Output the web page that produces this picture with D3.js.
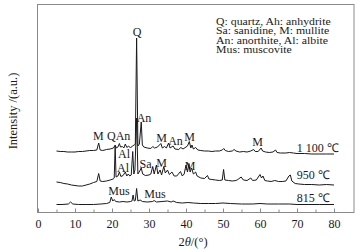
<!DOCTYPE html>
<html><head><meta charset="utf-8">
<script src="https://cdn.jsdelivr.net/npm/d3@7"></script>
<style>
html,body{margin:0;padding:0;background:#fff;}
svg{display:block;font-family:"Liberation Serif","Times New Roman",serif;}
</style></head>
<body><svg id="c" width="363" height="251"></svg>
<script>
// 2θ (°), intensity (a.u.)
const xrd815 = [[5,8.5],[6.5,8.5],[8.2,9],[8.8,11],[9.4,9],[11,8.5],[13,8.5],[15,8.5],[17,9],[18.5,9.5],[19.4,10.5],[19.8,16],[20.2,12],[20.6,13.5],[21,11.5],[22,11],[23,11.5],[24,11],[25,11.5],[25.4,12],[25.7,18],[26.0,12],[26.3,12.5],[26.65,24.5],[27,12],[27.6,13],[28.2,11.5],[29.5,11],[31,11.5],[31.4,12.5],[32,11],[33.5,11.5],[35,12],[36,11],[36.5,12],[37.5,10.5],[39,10],[40.5,10.5],[42,10],[44,9.5],[46,9.5],[48,9.5],[50,10],[52,9.5],[55,9],[58,9],[60,9.5],[62,9],[65,9],[68,9],[70,8.5],[73,8.5],[76,8.5],[80,8.5]];
const xrd950 = [[5,31],[6,30.5],[7,29.5],[8,29],[9,28],[10,27.5],[11,27],[12,27],[13,28],[14,29],[15,30.5],[15.9,31.5],[16.4,39.5],[16.8,32],[17.5,31.5],[18.5,32],[19.5,33],[20.3,34],[20.6,35],[20.85,67],[21.1,36],[21.6,37],[22.0,41],[22.4,36.5],[23.0,37.5],[23.6,41],[24.0,37],[24.4,39],[24.8,37],[25.2,38],[25.6,61.5],[25.9,39],[26.2,43],[26.65,95],[27.0,39],[27.5,42],[27.9,45],[28.3,39],[29,37.5],[30,38],[30.5,39],[31.0,46.5],[31.4,39],[32.0,48],[32.4,39],[33.0,43],[33.4,38],[34.0,46.5],[34.4,40],[35.0,43],[35.5,38.5],[36.2,41],[36.8,37],[37.5,37],[38.5,41.5],[39.0,37],[39.5,39],[40.0,48],[40.4,41],[40.8,49.5],[41.1,41],[41.5,45],[42,39],[42.6,41],[43,37],[44,35],[45,34.5],[45.8,37.5],[46.2,34],[47,33.5],[48,33],[49,32.5],[49.8,33],[50.15,43.5],[50.5,33],[51.5,32.5],[52.5,32],[53.5,32.5],[54,33.5],[54.9,36],[55.5,33],[56.5,32.5],[57.5,35],[58,32.5],[59,33],[60.0,38.5],[60.4,35],[60.8,37],[61.3,32.5],[62,32],[63,31.5],[64,32.5],[65,31.5],[66,31.5],[67,32],[67.8,37],[68.2,38],[68.6,32],[69.5,29.5],[70.5,29],[72,28.5],[74,28.5],[76,28],[78,28.5],[80,28]];
const xrd1100 = [[5,62],[6,61.5],[7,61.5],[8,61],[9,61],[10,61],[11,61.5],[12,61.5],[13,62],[14,62.5],[15,62.5],[15.9,63],[16.4,70],[16.8,63],[17.5,62.5],[18.5,63.5],[19.5,64],[20.4,65],[20.85,68],[21.2,65],[21.6,66],[22.0,69.5],[22.3,66],[22.8,66.5],[23.2,65],[23.6,69],[24.0,65.5],[24.5,67],[25.0,65],[25.5,67],[26.0,68],[26.3,69],[26.65,175],[27.0,67],[27.4,69],[27.9,91],[28.2,68],[28.6,66],[29.5,65],[30.5,64.5],[31.0,66.5],[31.5,65],[32.3,66],[33.2,69.5],[33.6,65],[34.2,66.5],[34.7,65],[35.3,70],[35.7,65],[36.5,67],[37.0,64],[38,63.5],[38.6,65.5],[39.2,64],[40.0,66],[40.4,67],[40.9,71.5],[41.3,65],[41.6,68],[42.0,64],[42.6,65.5],[43.2,63],[44,62.5],[45,62],[46,62],[47,61.5],[48,62],[49,62],[49.8,63],[50.2,64.5],[50.6,62.5],[51.5,61.5],[52.5,62],[53,63.5],[53.5,62],[54.5,61],[55.5,61.5],[56.5,61],[57.5,62],[58.3,63.5],[58.7,61.5],[59.5,61.5],[60.3,65],[60.7,62],[61.5,61],[62.5,60.5],[63.5,61],[64.2,63],[64.6,60.5],[65.5,60],[67,60],[68,60.5],[69,60],[70,59.5],[72,59.5],[74,59],[76,59],[78,59],[80,59]];
const majorTicks = [0,10,20,30,40,50,60,70,80];
const minorTicks = [5,15,25,35,45,55,65,75];
// peak labels: text, 2θ, intensity
const peakLabels = [["Q",26.76,177.5],["An",28.65,91],["M",16.3,73.5],["QAn",21.8,73.5],["M",33.43,71.5],["An",37.16,68],["M",40.95,72],["M",59.32,67],["Al",23.24,54.7],["Al",22.97,41],["Sa",29.05,45],["M",33.43,46.5],["M",41.08,43],["Mus",21.9,18],["Mus",31.6,15]];
const tempLabels = [["1 100 \u2103",69.9,61.5],["950 \u2103",69.9,34.5],["815 \u2103",69.9,11]];
const legendLines = ["Q: quartz, Ah: anhydrite","Sa: sanidine, M: mullite","An: anorthite, Al: albite","Mus: muscovite"];

const svg = d3.select("#c");
const x = d3.scaleLinear().domain([0,85.4]).range([38,354]);
const y = d3.scaleLinear().domain([0,208]).range([213,5]);
const ink = "#1a1a1a", frame = "#8a8a8a";

const line = d3.line().x(d=>x(d[0])).y(d=>y(d[1]));
[xrd815, xrd950, xrd1100].forEach(s=>{
  svg.append("path").datum(s).attr("d",line).attr("fill","none")
    .attr("stroke",ink).attr("stroke-width",1).attr("stroke-linejoin","round");
});

// frame
svg.append("rect").attr("x",37.5).attr("y",4.5).attr("width",316.5).attr("height",208)
  .attr("fill","none").attr("stroke",frame).attr("stroke-width",1);

// axis
const gMaj = svg.append("g").attr("transform","translate(0,212.5)")
  .call(d3.axisBottom(x).tickValues(majorTicks).tickSize(-4).tickPadding(0).tickFormat(d3.format("d")));
gMaj.select(".domain").remove();
gMaj.selectAll(".tick line").attr("stroke",frame);
gMaj.selectAll(".tick text").attr("y",15).attr("dy",0).attr("fill",ink)
  .style("font-family","'Liberation Serif','Times New Roman',serif").style("font-size","12px");
const gMin = svg.append("g").attr("transform","translate(0,212.5)")
  .call(d3.axisBottom(x).tickValues(minorTicks).tickSize(-3).tickFormat(""));
gMin.select(".domain").remove();
gMin.selectAll(".tick line").attr("stroke",frame);

// axis titles
const xt = svg.append("text").attr("x",193).attr("y",246).attr("text-anchor","middle")
  .attr("font-size","12.5px").attr("fill",ink);
xt.append("tspan").text("2");
xt.append("tspan").attr("font-style","italic").text("\u03b8");
xt.append("tspan").text("/(\u00b0)");
svg.append("text").attr("transform","translate(16.5,111) rotate(-90)").attr("text-anchor","middle")
  .attr("font-size","12.5px").attr("fill",ink).text("Intensity /(a.u.)");

// peak labels
svg.append("g").selectAll("text").data(peakLabels).join("text")
  .attr("x",d=>x(d[1])).attr("y",d=>y(d[2])).attr("text-anchor","middle")
  .attr("font-size","12px").attr("fill",ink).text(d=>d[0]);
svg.append("g").selectAll("text").data(tempLabels).join("text")
  .attr("x",d=>x(d[1])).attr("y",d=>y(d[2])).attr("text-anchor","start")
  .attr("font-size","12px").attr("fill",ink).text(d=>d[0]);

// legend
svg.append("g").selectAll("text").data(legendLines).join("text")
  .attr("transform",(d,i)=>`translate(216,${24.8+i*9.4}) scale(1,0.88)`)
  .attr("font-size","11.8px").attr("fill",ink).text(d=>d);
</script></body></html>
